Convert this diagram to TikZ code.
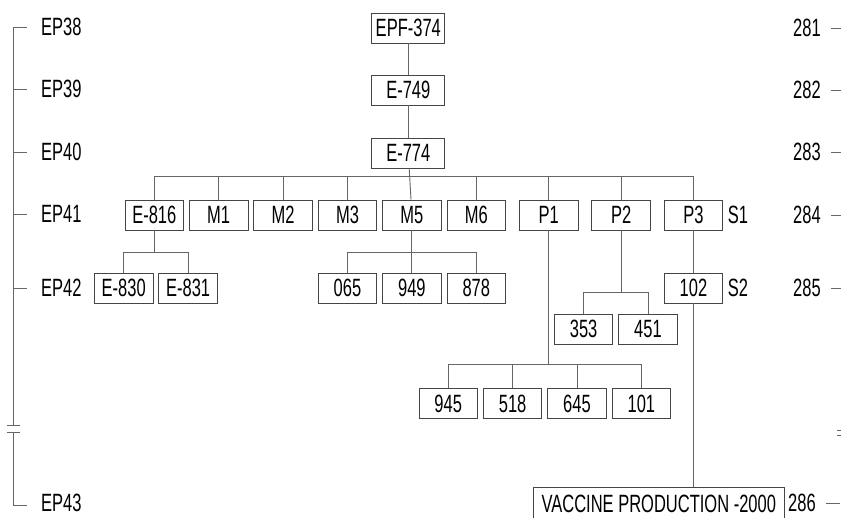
\documentclass[tikz,border=0pt]{standalone}
\usepackage{fontspec}
\setmainfont[FakeStretch=0.66]{Liberation Sans}
\usetikzlibrary{positioning}
\definecolor{edge}{HTML}{454545}
\definecolor{wire}{HTML}{666666}

\begin{document}
\begin{tikzpicture}[x=1pt,y=-1pt,font=\fontsize{25}{28}\selectfont,node distance=5pt,
n/.style={draw=edge,line width=.9pt,minimum width=58.5pt,minimum height=30pt,inner sep=0pt},
t/.style={n,minimum width=73pt},
w/.style={draw=wire,line width=.9pt},
lab/.style={anchor=west,inner sep=0pt}]
\useasboundingbox(0,0)rectangle(841,518);
% generations, left
\node[lab](ep38) at (41,27){EP38};
\node[lab](ep39) at (41,89){EP39};
\node[lab](ep40) at (41,152){EP40};
\node[lab](ep41) at (41,214){EP41};
\node[lab](ep42) at (41,288){EP42};
\node[lab](ep43) at (41,503){EP43};
\coordinate(brk1) at (13.3,425);\coordinate(brk2) at (13.3,432);
\draw[w]([xshift=-14pt]ep38.west)-|(brk1);\draw[w](brk2)|-([xshift=-14pt,yshift=-2pt]ep43.west);
\foreach \k in {ep39,ep40,ep41,ep42}\draw[w](\k.west-|brk1)--([xshift=-14pt]\k.west);
\draw[w]([xshift=-6.6pt]brk1)--++(13.4,0);\draw[w]([xshift=-6.6pt]brk2)--++(13.4,0);
% years, right
\node[lab](r281) at (793,28){281};
\node[lab](r282) at (793,90){282};
\node[lab](r283) at (793,152){283};
\node[lab](r284) at (793,215){284};
\node[lab](r285) at (793,288){285};
\node[lab](r286) at (788,503){286};
\foreach \k in {r281,r282,r283,r284,r285,r286}\draw[w]([xshift=10pt]\k.east)--++(14,0);
\draw[w](837,430)--(841,430);\draw[w](837,435.7)--(841,435.7);
% lineage
\node[t](epf) at (408.3,28){EPF-374};
\node[t](e749) at (408.3,90){E-749};
\node[t](e774) at (408.3,153){E-774};
\node[n](e816) at (154.3,215){E-816};
\node[n,right=of e816](m1){M1};
\node[n,right=of m1](m2){M2};
\node[n,right=of m2](m3){M3};
\node[n,right=of m3](m5){M5};
\node[n,right=of m5](m6){M6};
\node[n,right=13pt of m6](p1){P1};
\node[n,right=13pt of p1](p2){P2};
\node[n,right=13pt of p2](p3){P3};
\node(s1) at (738,215){S1};
\node[n](e830) at (123.7,288){E-830};
\node[n,right=of e830](e831){E-831};
\node[n](n065) at (m3|-e830){065};
\node[n](n949) at (m5|-e830){949};
\node[n](n878) at (m6|-e830){878};
\node[n](n102) at (p3|-e830){102};
\node(s2) at (738,288){S2};
\node[n](n353) at (583.6,329){353};
\node[n,right=of n353](n451){451};
\node[n](n945) at (448.2,403.7){945};
\node[n,right=of n945](n518){518};
\node[n,right=of n518](n645){645};
\node[n,right=of n645](n101){101};
\node[draw=edge,line width=.9pt,minimum width=251pt,minimum height=34pt,inner sep=2pt](vac) at (658.8,504){VACCINE PRODUCTION -2000};
\draw[w](epf)--(e749);\draw[w](e749)--(e774);\draw[w](e774)--(m5);
\draw[w](e816.north)--++(0,-23)-|(p3.north);
\foreach \k in {m1,m2,m3,m6,p1,p2}\draw[w](\k.north)--++(0,-23);
\draw[w](e816.south)--++(0,23);\draw[w](e830.north)--++(0,-20)-|(e831.north);
\draw[w](m5)--(n949);\draw[w](n065.north)--++(0,-20)-|(n878.north);
\draw[w](n353.north)--++(0,-20.7)coordinate(k3)-|(n451.north);\draw[w](p2.south)--(p2|-k3);
\draw[w](n945.north)--++(0,-24)coordinate(k4)-|(n101.north);\draw[w](p1.south)--(p1|-k4);
\foreach \k in {n518,n645}\draw[w](\k.north)--++(0,-24);
\draw[w](p3)--(n102);\draw[w](n102.south)--(n102|-vac.north);
\end{tikzpicture}
\end{document}
